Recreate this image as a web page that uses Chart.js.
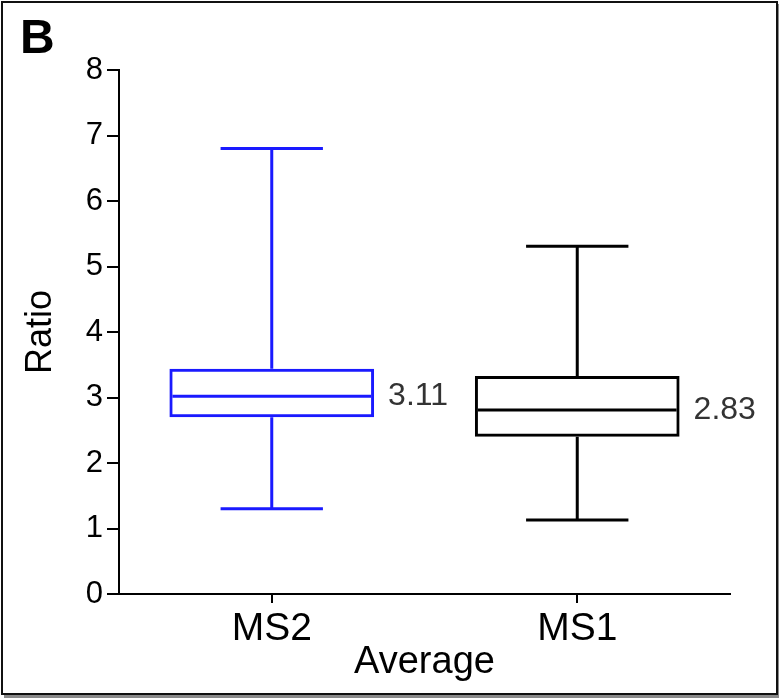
<!DOCTYPE html>
<html>
<head>
<meta charset="utf-8">
<title>Ratio by average</title>
<script src="https://cdn.jsdelivr.net/npm/chart.js@4.4.1/dist/chart.umd.min.js"></script>
<style>
  html, body { margin: 0; padding: 0; background: #fff; }
  #wrap { position: relative; width: 779px; height: 698px; overflow: hidden; }
  #c { position: absolute; left: 0; top: 0; }
  #frame {
    position: absolute; left: 1px; top: 1px;
    width: 773px; height: 690px;
    border: 2px solid #111;
    box-shadow: 3px 3px 0 #8a8a8a;
    pointer-events: none;
  }
</style>
</head>
<body>
<div id="wrap">
  <canvas id="c" width="779" height="698"></canvas>
  <div id="frame"></div>
</div>
<script>
// Groups on the x axis
const categories = ['MS2', 'MS1'];

// Five-number summaries per group
const whiskerLow  = [1.30, 1.13];
const quartile1   = [2.70, 2.40];
const medians     = [3.02, 2.81];
const quartile3   = [3.44, 3.33];
const whiskerHigh = [6.80, 5.31];

// Mean values printed beside each box
const meanLabels = ['3.11', '2.83'];

// Y axis ticks
const yTicks = [0, 1, 2, 3, 4, 5, 6, 7, 8];

const boxColors = ['#1a1aff', '#000000'];
const FONT = "'Liberation Sans', Arial, sans-serif";

// Whiskers, caps, medians and the side labels, drawn from the data arrays
const boxPlotExtras = {
  id: 'boxPlotExtras',
  afterDatasetsDraw(chart) {
    const ctx = chart.ctx;
    const y = chart.scales.y;
    const meta = chart.getDatasetMeta(0);
    meta.data.forEach((bar, i) => {
      const cx = bar.x;
      const half = bar.width / 2;
      const capHalf = bar.width / 4;
      const lw = 3;
      ctx.save();
      ctx.strokeStyle = boxColors[i];
      ctx.lineWidth = lw;
      ctx.lineCap = 'butt';
      const pHi = y.getPixelForValue(whiskerHigh[i]);
      const pLo = y.getPixelForValue(whiskerLow[i]);
      const pQ3 = y.getPixelForValue(quartile3[i]);
      const pQ1 = y.getPixelForValue(quartile1[i]);
      const pMed = y.getPixelForValue(medians[i]);
      ctx.beginPath();
      // upper whisker and cap
      ctx.moveTo(cx, pQ3);
      ctx.lineTo(cx, pHi);
      ctx.moveTo(cx - capHalf, pHi);
      ctx.lineTo(cx + capHalf, pHi);
      // lower whisker and cap
      ctx.moveTo(cx, pQ1);
      ctx.lineTo(cx, pLo);
      ctx.moveTo(cx - capHalf, pLo);
      ctx.lineTo(cx + capHalf, pLo);
      // median
      ctx.moveTo(cx - half + lw, pMed);
      ctx.lineTo(cx + half - lw, pMed);
      ctx.stroke();

      ctx.fillStyle = '#333333';
      ctx.font = '32px ' + FONT;
      ctx.textAlign = 'left';
      ctx.textBaseline = 'middle';
      ctx.fillText(meanLabels[i], cx + half + 14, pMed);
      ctx.restore();
    });
  },
  afterDraw(chart) {
    const ctx = chart.ctx;
    ctx.save();
    ctx.fillStyle = '#000';
    ctx.font = 'bold 48px ' + FONT;
    ctx.textAlign = 'left';
    ctx.textBaseline = 'alphabetic';
    ctx.fillText('B', 20, 53);
    ctx.restore();
  }
};

new Chart(document.getElementById('c'), {
  type: 'bar',
  data: {
    labels: categories,
    datasets: [{
      data: categories.map((_, i) => [quartile1[i], quartile3[i]]),
      backgroundColor: 'rgba(255,255,255,0)',
      borderColor: boxColors,
      borderWidth: 3,
      borderSkipped: false,
      barPercentage: 0.67,
      categoryPercentage: 1.0
    }]
  },
  options: {
    responsive: false,
    animation: false,
    events: [],
    layout: { padding: { left: 0, top: 70, right: 49, bottom: 0 } },
    plugins: {
      legend: { display: false },
      tooltip: { enabled: false },
      title: { display: false }
    },
    scales: {
      x: {
        type: 'category',
        offset: true,
        afterFit(scale) { scale.height = 104; },
        grid: {
          display: true,
          offset: false,
          drawOnChartArea: false,
          drawTicks: true,
          tickLength: 9,
          color: '#000',
          lineWidth: 2
        },
        border: { display: true, color: '#000', width: 2 },
        ticks: {
          color: '#000',
          font: { family: FONT, size: 39 },
          padding: 3,
          maxRotation: 0
        },
        title: {
          display: true,
          text: 'Average',
          color: '#000',
          font: { family: FONT, size: 38 },
          padding: { top: 0, bottom: 13 }
        }
      },
      y: {
        min: 0,
        max: 8,
        afterFit(scale) { scale.width = 119; },
        afterBuildTicks(scale) { scale.ticks = yTicks.map(v => ({ value: v })); },
        grid: {
          display: true,
          drawOnChartArea: false,
          drawTicks: true,
          tickLength: 12,
          color: '#000',
          lineWidth: 2
        },
        border: { display: true, color: '#000', width: 2 },
        ticks: {
          color: '#000',
          font: { family: FONT, size: 31 },
          padding: 4
        },
        title: {
          display: true,
          text: 'Ratio',
          color: '#000',
          font: { family: FONT, size: 36 },
          padding: { top: 19, bottom: 0 }
        }
      }
    }
  },
  plugins: [boxPlotExtras]
});
</script>
</body>
</html>
